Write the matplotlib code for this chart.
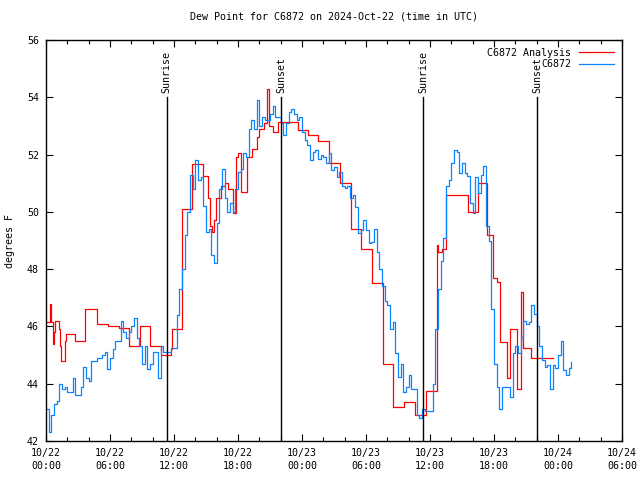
import numpy as np
import matplotlib
matplotlib.use('Agg')
import matplotlib.pyplot as plt
from matplotlib.ticker import MultipleLocator

# hours since 2024-10-22 00:00 UTC
analysis_hours = [0.0, 0.33, 0.47, 0.61, 0.75, 0.84, 1.22, 1.31, 1.41, 1.78, 1.875, 2.72, 3.66, 4.78,
                  5.81, 6.84, 7.78, 8.81, 9.75, 10.78, 11.72, 11.81, 12.75, 13.69, 14.72, 15.19, 15.375,
                  15.56, 15.75, 15.94, 16.41, 16.78, 17.06, 17.53, 17.81, 18.0, 18.28, 18.84, 19.31,
                  19.78, 19.97, 20.44, 20.72, 20.91, 21.28, 21.75, 23.625, 24.56, 25.5, 26.53, 27.56,
                  28.59, 29.53, 30.56, 31.59, 32.53, 33.56, 34.59, 35.625, 36.66, 36.75, 37.125, 37.5,
                  39.56, 40.5, 41.34, 41.9, 42.28, 42.56, 43.22, 43.5, 44.16, 44.53, 44.72, 45.47, 47.53]
analysis_dewpt = [46.15, 46.8, 46.15, 45.4, 45.8, 46.2, 45.9, 45.3, 44.8, 45.5, 45.75, 45.5, 46.6, 46.1,
                  46.0, 45.95, 45.3, 46.0, 45.3, 45.0, 45.2, 45.9, 50.1, 51.66, 51.26, 50.5, 49.5,
                  49.3, 49.7, 50.5, 50.9, 51.0, 50.8, 49.95, 51.9, 52.05, 50.7, 51.9, 52.2,
                  52.6, 52.9, 53.1, 54.3, 53.0, 52.8, 53.13, 52.85, 52.7, 52.47, 51.7, 51.0,
                  49.4, 48.7, 47.5, 44.7, 43.2, 43.35, 42.9, 43.75, 48.84, 48.6, 48.7, 50.6,
                  49.98, 51.0, 49.2, 47.7, 47.54, 45.47, 44.2, 45.9, 43.8, 47.2, 45.25, 44.9, 44.9]

# station obs, one value every 15 minutes from 00:00
obs_step = 0.25
obs_dewpt = [43.1, 42.3, 42.9, 43.3, 43.4, 44.0, 43.8, 43.9, 43.7, 43.7,
             44.2, 43.6, 43.6, 43.9, 44.6, 44.2, 44.1, 44.8, 44.8, 44.9,
             44.9, 45.0, 45.1, 44.5, 44.9, 45.2, 45.5, 45.5, 46.2, 45.8,
             45.6, 45.8, 46.0, 46.3, 45.6, 45.3, 44.7, 45.3, 44.5, 44.7,
             45.1, 45.1, 44.2, 45.3, 45.1, 45.1, 45.1, 45.25, 45.25, 46.4,
             47.3, 48.0, 49.2, 50.0, 51.3, 50.8, 51.8, 51.1, 51.2, 50.2,
             49.3, 49.4, 48.5, 48.2, 49.6, 50.8, 51.5, 50.5, 50.0, 50.3,
             50.0, 50.8, 51.4, 51.5, 52.05, 51.9, 52.9, 53.2, 52.9, 53.9,
             53.0, 53.3, 53.2, 53.2, 53.4, 53.7, 53.3, 53.3, 53.1, 52.7,
             53.1, 53.5, 53.6, 53.4, 53.2, 53.3, 52.8, 52.5, 52.33, 51.8,
             52.1, 52.15, 51.85, 52.0, 51.9, 51.7, 52.05, 51.46, 51.57, 51.2,
             51.4, 50.9, 50.85, 50.9, 50.5, 50.6, 50.18, 49.25, 49.36, 49.7,
             49.36, 48.9, 48.96, 49.4, 48.6, 48.0, 47.4, 46.9, 46.75, 45.9,
             46.16, 45.06, 44.25, 44.7, 43.7, 43.9, 44.3, 43.8, 43.8, 42.9,
             42.8, 43.1, 43.05, 43.05, 43.05, 44.0, 45.9, 47.3, 48.3, 49.1,
             50.9, 51.1, 51.7, 52.15, 52.1, 51.35, 51.7, 51.35, 51.25, 50.3,
             49.95, 51.2, 50.65, 51.3, 51.6, 49.5, 49.0, 46.6, 44.7, 43.9,
             43.1, 43.9, 43.9, 43.9, 43.55, 45.06, 45.3, 45.06, 45.64, 46.2,
             46.1, 46.15, 46.75, 46.45, 46.0, 45.3, 44.83, 44.6, 44.65, 43.8,
             44.65, 44.55, 45.0, 45.5, 44.48, 44.3, 44.55, 44.75]

sun_hours = [11.33, 22.03, 35.35, 46.02]
sun_labels = ['Sunrise', 'Sunset', 'Sunrise', 'Sunset']

tick_labels = ['10/22\n00:00', '10/22\n06:00', '10/22\n12:00', '10/22\n18:00', '10/23\n00:00',
               '10/23\n06:00', '10/23\n12:00', '10/23\n18:00', '10/24\n00:00', '10/24\n06:00']

plt.rcParams['font.family'] = ['DejaVu Sans Mono']
plt.rcParams['font.size'] = 7.2

fig = plt.figure(figsize=(6.4, 4.8), dpi=100)
ax = fig.add_axes([46 / 640, 39 / 480, 576 / 640, 401 / 480])

obs_hours = np.arange(len(obs_dewpt)) * obs_step
ax.plot(analysis_hours, analysis_dewpt, color='#ff0000', lw=0.9, drawstyle='steps-post',
        label='C6872 Analysis')
ax.plot(obs_hours, obs_dewpt, color='#0a84ff', lw=0.9, drawstyle='steps-post', label='C6872')

for h, lab in zip(sun_hours, sun_labels):
    ax.plot([h, h], [42, 54], color='black', lw=1.0)
    ax.text(h, 54.15, lab, rotation=90, ha='center', va='bottom')

ax.set_xlim(0, 54)
ax.set_ylim(42, 56)
ax.set_xticks(np.arange(0, 55, 6))
ax.set_xticklabels(tick_labels, linespacing=1.35)
ax.xaxis.set_minor_locator(MultipleLocator(2))
ax.yaxis.set_major_locator(MultipleLocator(2))
ax.tick_params(which='both', direction='in', top=True, right=True, width=0.8)
ax.tick_params(which='major', length=5, pad=5)
ax.tick_params(which='minor', length=3)
for s in ax.spines.values():
    s.set_linewidth(1.0)

ax.set_title('Dew Point for C6872 on 2024-Oct-22 (time in UTC)', fontsize=7.2, pad=15)
ax.set_ylabel('degrees F', labelpad=9)

leg = ax.legend(loc='upper right', frameon=False, markerfirst=False, handlelength=3.5,
                borderaxespad=0.4, labelspacing=0.15)
for t in leg.get_texts():
    t.set_ha('right')

fig.savefig('out.png', dpi=100)
